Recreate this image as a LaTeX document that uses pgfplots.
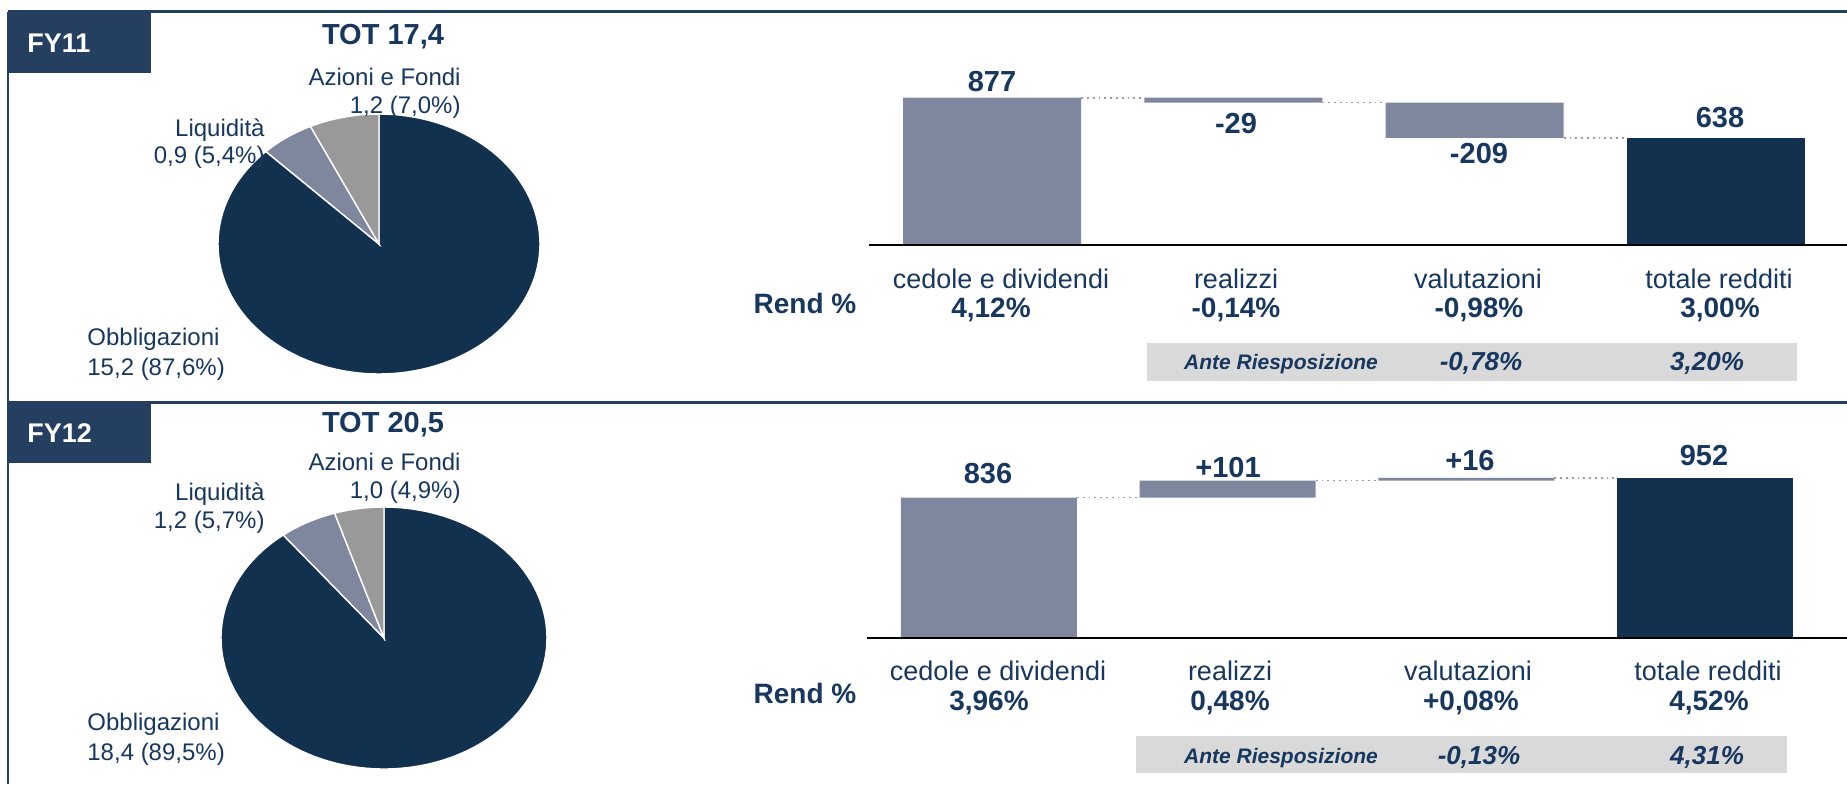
\documentclass[border=0pt]{standalone}
\usepackage{fontspec}
\setmainfont{Liberation Sans}
\usepackage{pgfplots}
\pgfplotsset{compat=1.18}

\definecolor{navy}{HTML}{12314F}
\definecolor{slate}{HTML}{7F879F}
\definecolor{pgray}{HTML}{999999}
\definecolor{txt}{HTML}{17375E}
\definecolor{fybox}{HTML}{243F60}
\definecolor{antebg}{HTML}{D9D9D9}
\definecolor{conn}{HTML}{9A9A9A}

\tikzset{
  lbl/.style={text=txt, inner sep=0pt, font=\fontsize{12}{14}\selectfont},
  cat/.style={text=txt, inner sep=0pt, font=\fontsize{13.5}{16}\selectfont},
  pct/.style={text=txt, inner sep=0pt, font=\fontsize{14}{16}\selectfont\bfseries},
  val/.style={text=txt, inner sep=0pt, font=\fontsize{14.5}{16}\selectfont\bfseries},
  ante/.style={text=txt, inner sep=0pt, font=\fontsize{10.5}{12}\selectfont\bfseries\itshape},
  antev/.style={text=txt, inner sep=0pt, font=\fontsize{13}{15}\selectfont\bfseries\itshape},
}
\pgfplotsset{
  pie/.style={anchor=south west, scale only axis, hide axis,
    xmin=-1, xmax=1, ymin=-1, ymax=1, clip=false},
  wf/.style={anchor=south west, scale only axis, hide axis, clip=false,
    ymin=0, ymax=1000, height=84pt, xmin=-0.51},
  cline/.style={conn, dotted, line width=0.9pt},
}
% one pie slice: from angle, to angle, colour, samples
\newcommand{\slice}[4]{%
  \addplot[fill=#3, draw=white, line width=0.7pt, domain=#1:#2, samples=#4, variable=\t]
    ({cos(\t)}, {sin(\t)}) -- (axis cs:0,0) -- cycle;}

\begin{document}
\begin{tikzpicture}[x=0.5pt, y=0.5pt]
\useasboundingbox (0,0) rectangle (1847,784);
\coordinate (pie11) at (218,410);
\coordinate (pie12) at (221,15);
\coordinate (wf11) at (869,539);
\coordinate (wf12) at (867,146);

% frame
\fill[fybox] (8,711) rectangle (151,772);
\fill[fybox] (8,321) rectangle (151,382);
\draw[fybox, line width=1.5pt] (8,772) -- (1847,772);
\draw[fybox, line width=1.5pt] (8,382) -- (1847,382);
\draw[fybox, line width=1pt] (8,772) -- (8,0);
\node[anchor=west, inner sep=0pt, text=white, font=\fontsize{13.5}{15}\selectfont\bfseries] at (27,741) {FY11};
\node[anchor=west, inner sep=0pt, text=white, font=\fontsize{13.5}{15}\selectfont\bfseries] at (27,351) {FY12};

% ---------- FY11 pie: Azioni 7,0 / Liquidita 5,4 / Obbligazioni 87,6
\pgfmathsetmacro{\aA}{90+3.6*7.0}
\pgfmathsetmacro{\aB}{\aA+3.6*5.4}
\begin{axis}[pie, at={(pie11)}, width=161pt, height=130pt]
\slice{\aB}{450}{navy}{120}
\slice{\aA}{\aB}{slate}{8}
\slice{90}{\aA}{pgray}{8}
\end{axis}
\node[val, anchor=center] at (383,747) {TOT 17,4};
\node[lbl, anchor=base east] at (461,698.5) {Azioni e Fondi};
\node[lbl, anchor=base east] at (461,670) {1,2 (7,0\%)};
\node[lbl, anchor=base east] at (265,647) {Liquidità};
\node[lbl, anchor=base east] at (265,621) {0,9 (5,4\%)};
\node[lbl, anchor=base west] at (87,438.5) {Obbligazioni};
\node[lbl, anchor=base west] at (87,408.5) {15,2 (87,6\%)};

% ---------- FY12 pie: Azioni 4,9 / Liquidita 5,7 / Obbligazioni 89,5
\pgfmathsetmacro{\bA}{90+3.6*4.9}
\pgfmathsetmacro{\bB}{\bA+3.6*5.7}
\begin{axis}[pie, at={(pie12)}, width=163pt, height=131pt]
\slice{\bB}{450}{navy}{120}
\slice{\bA}{\bB}{slate}{8}
\slice{90}{\bA}{pgray}{8}
\end{axis}
\node[val, anchor=center] at (383,359) {TOT 20,5};
\node[lbl, anchor=base east] at (461,314) {Azioni e Fondi};
\node[lbl, anchor=base east] at (461,286) {1,0 (4,9\%)};
\node[lbl, anchor=base east] at (265,284) {Liquidità};
\node[lbl, anchor=base east] at (265,256) {1,2 (5,7\%)};
\node[lbl, anchor=base west] at (87,54) {Obbligazioni};
\node[lbl, anchor=base west] at (87,24) {18,4 (89,5\%)};

% ---------- FY11 waterfall
\begin{axis}[wf, ybar stacked, at={(wf11)}, width=489pt, xmax=3.543, bar width=89pt]
\addplot[draw=none, fill=none] coordinates {(0,0) (1,848) (2,638) (3,0)};
\addplot[draw=none, fill=slate] coordinates {(0,877) (1,29) (2,209) (3,0)};
\addplot[draw=none, fill=navy] coordinates {(0,0) (1,0) (2,0) (3,638)};
\end{axis}
\begin{axis}[wf, at={(wf11)}, width=489pt, xmax=3.543]
\addplot[black, line width=1pt] coordinates {(-0.51,0) (3.543,0)};
\addplot[cline] coordinates {(0.369,877) (0.631,877)};
\addplot[cline] coordinates {(1.369,848) (1.631,848)};
\addplot[cline] coordinates {(2.369,638) (2.631,638)};
\end{axis}
\node[val, anchor=base] at (992,692) {877};
\node[val, anchor=base] at (1236,651) {-29};
\node[val, anchor=base] at (1479,621) {-209};
\node[val, anchor=base] at (1720,657) {638};

\node[pct, anchor=base] at (805,471) {Rend \%};
\node[cat, anchor=base] at (1001,496) {cedole e dividendi};
\node[cat, anchor=base] at (1236,496) {realizzi};
\node[cat, anchor=base] at (1478,496) {valutazioni};
\node[cat, anchor=base] at (1719,496) {totale redditi};
\node[pct, anchor=base] at (991,467) {4,12\%};
\node[pct, anchor=base] at (1236,467) {-0,14\%};
\node[pct, anchor=base] at (1479,467) {-0,98\%};
\node[pct, anchor=base] at (1720,467) {3,00\%};

\fill[antebg] (1147,403) rectangle (1797,441);
\node[ante, anchor=base] at (1281,415) {Ante Riesposizione};
\node[antev, anchor=base] at (1481,414) {-0,78\%};
\node[antev, anchor=base] at (1707,414) {3,20\%};

% ---------- FY12 waterfall
\begin{axis}[wf, ybar stacked, at={(wf12)}, width=490pt, xmax=3.594, bar width=88pt]
\addplot[draw=none, fill=none] coordinates {(0,0) (1,836) (2,937) (3,0)};
\addplot[draw=none, fill=slate] coordinates {(0,836) (1,101) (2,16) (3,0)};
\addplot[draw=none, fill=navy] coordinates {(0,0) (1,0) (2,0) (3,952)};
\end{axis}
\begin{axis}[wf, at={(wf12)}, width=490pt, xmax=3.594]
\addplot[black, line width=1pt] coordinates {(-0.51,0) (3.594,0)};
\addplot[cline] coordinates {(0.369,836) (0.631,836)};
\addplot[cline] coordinates {(1.369,937) (1.631,937)};
\addplot[cline] coordinates {(2.369,952) (2.631,952)};
\end{axis}
\node[val, anchor=base] at (988,301) {836};
\node[val, anchor=base] at (1228,307) {+101};
\node[val, anchor=base] at (1470,314) {+16};
\node[val, anchor=base] at (1704,319) {952};

\node[pct, anchor=base] at (805,81) {Rend \%};
\node[cat, anchor=base] at (998,104) {cedole e dividendi};
\node[cat, anchor=base] at (1230,104) {realizzi};
\node[cat, anchor=base] at (1468,104) {valutazioni};
\node[cat, anchor=base] at (1708,104) {totale redditi};
\node[pct, anchor=base] at (989,74) {3,96\%};
\node[pct, anchor=base] at (1230,74) {0,48\%};
\node[pct, anchor=base] at (1471,74) {+0,08\%};
\node[pct, anchor=base] at (1709,74) {4,52\%};

\fill[antebg] (1136,11) rectangle (1787,48);
\node[ante, anchor=base] at (1281,21) {Ante Riesposizione};
\node[antev, anchor=base] at (1479,20) {-0,13\%};
\node[antev, anchor=base] at (1707,20) {4,31\%};
\end{tikzpicture}
\end{document}
